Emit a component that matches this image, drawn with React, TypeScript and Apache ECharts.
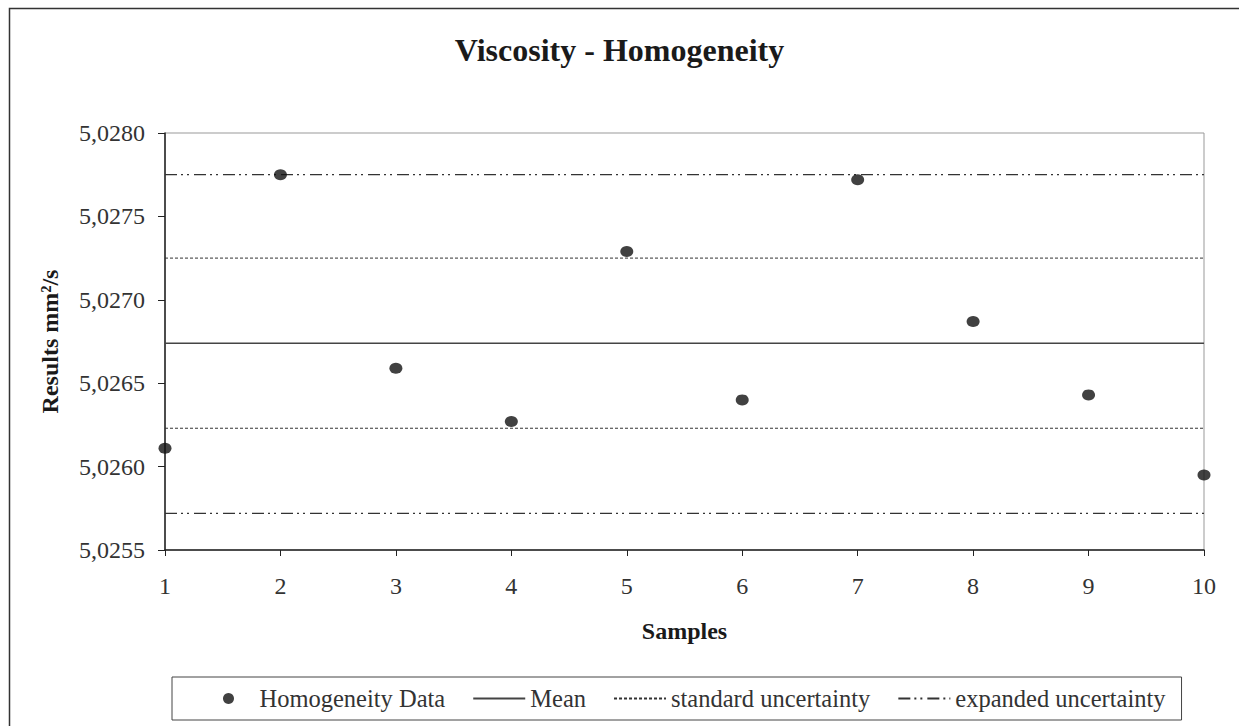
import React, { useEffect, useRef } from "react";
import * as echarts from "echarts";

const samples = [1, 2, 3, 4, 5, 6, 7, 8, 9, 10];
const homogeneityData = [5.02611, 5.02775, 5.02659, 5.02627, 5.02729, 5.0264, 5.02772, 5.02687, 5.02643, 5.02595];
const meanLine = [5.02674, 5.02674];
const stdUpper = [5.02725, 5.02725];
const stdLower = [5.02623, 5.02623];
const expUpper = [5.02775, 5.02775];
const expLower = [5.02572, 5.02572];
const lineX = [1, 10];
const yTicks = { min: 5.0255, max: 5.028, interval: 0.0005 };
const legendNames = ["Homogeneity Data", "Mean", "standard uncertainty", "expanded uncertainty"];

const FONT = "Liberation Serif";

export default function App() {
  const ref = useRef<HTMLDivElement>(null);
  useEffect(() => {
    if (!ref.current) return;
    const chart = echarts.init(ref.current, null, { renderer: "svg" });
    const pair = (ys: number[]) => lineX.map((x, i) => [x, ys[i]]);
    const stdStyle = { color: "#333", width: 1, type: [3, 2] as any };
    const expStyle = { color: "#333", width: 1.2, type: [12, 4, 2, 4, 2, 5] as any };
    chart.setOption({
      animation: false,
      backgroundColor: "#fff",
      title: {
        text: "Viscosity - Homogeneity",
        left: "center",
        top: 29,
        textStyle: { fontFamily: FONT, fontSize: 32, fontWeight: "bold", color: "#1a1a1a" },
      },
      graphic: [
        {
          type: "rect",
          left: 7,
          top: 6,
          shape: { width: 1260, height: 760 },
          style: { fill: "none", stroke: "#333", lineWidth: 1.5 },
          silent: true,
        },
      ],
      grid: {
        left: 165,
        top: 133,
        right: 35,
        bottom: 176,
        show: true,
        borderColor: "#999",
        borderWidth: 1,
      },
      xAxis: {
        type: "value",
        min: 1,
        max: 10,
        interval: 1,
        name: "Samples",
        nameLocation: "middle",
        nameGap: 69,
        nameTextStyle: { fontFamily: FONT, fontSize: 24, fontWeight: "bold", color: "#1a1a1a" },
        axisLine: { lineStyle: { color: "#222", width: 1.5 } },
        axisTick: { show: true, length: 6, lineStyle: { color: "#222" } },
        axisLabel: { margin: 24, fontFamily: FONT, fontSize: 24, color: "#333", formatter: (v: number) => String(v) },
        splitLine: { show: false },
      },
      yAxis: {
        type: "value",
        min: yTicks.min,
        max: yTicks.max,
        interval: yTicks.interval,
        name: "Results mm²/s",
        nameLocation: "middle",
        nameGap: 103,
        nameTextStyle: { fontFamily: FONT, fontSize: 24, fontWeight: "bold", color: "#1a1a1a" },
        axisLine: { show: true, lineStyle: { color: "#222", width: 1.5 } },
        axisTick: { show: true, length: 7, lineStyle: { color: "#222" } },
        axisLabel: {
          margin: 20,
          fontFamily: FONT,
          fontSize: 24,
          color: "#333",
          formatter: (v: number) => v.toFixed(4).replace(".", ","),
        },
        splitLine: { show: false },
      },
      legend: {
        left: 172,
        top: 677,
        padding: [9, 16, 9, 51],
        itemGap: 27,
        itemWidth: 52,
        itemHeight: 11,
        borderColor: "#444",
        borderWidth: 1,
        textStyle: { fontFamily: FONT, fontSize: 24.5, color: "#333" },
        data: legendNames.map((n, i) =>
          i === 0 ? { name: n } : { name: n, itemStyle: { opacity: 0, color: "rgba(0,0,0,0)" } }
        ),
      },
      series: [
        {
          name: legendNames[1],
          type: "line",
          data: pair(meanLine),
          symbol: "none",
          lineStyle: { color: "#444", width: 1.5 },
          itemStyle: { color: "#444" },
          z: 1,
        },
        {
          name: legendNames[2],
          type: "line",
          data: pair(stdUpper),
          symbol: "none",
          lineStyle: stdStyle,
          itemStyle: { color: "#333" },
          z: 1,
        },
        {
          name: legendNames[2],
          type: "line",
          data: pair(stdLower),
          symbol: "none",
          lineStyle: stdStyle,
          itemStyle: { color: "#333" },
          z: 1,
        },
        {
          name: legendNames[3],
          type: "line",
          data: pair(expUpper),
          symbol: "none",
          lineStyle: expStyle,
          itemStyle: { color: "#333" },
          z: 1,
        },
        {
          name: legendNames[3],
          type: "line",
          data: pair(expLower),
          symbol: "none",
          lineStyle: expStyle,
          itemStyle: { color: "#333" },
          z: 1,
        },
        {
          name: legendNames[0],
          type: "scatter",
          data: samples.map((s, i) => [s, homogeneityData[i]]),
          symbol: "circle",
          symbolSize: [13, 11],
          itemStyle: { color: "#111" },
          z: 5,
        },
      ],
    });
    return () => chart.dispose();
  }, []);
  return <div ref={ref} style={{ position: "fixed", left: 0, top: 0, width: 1239, height: 726 }} />;
}
